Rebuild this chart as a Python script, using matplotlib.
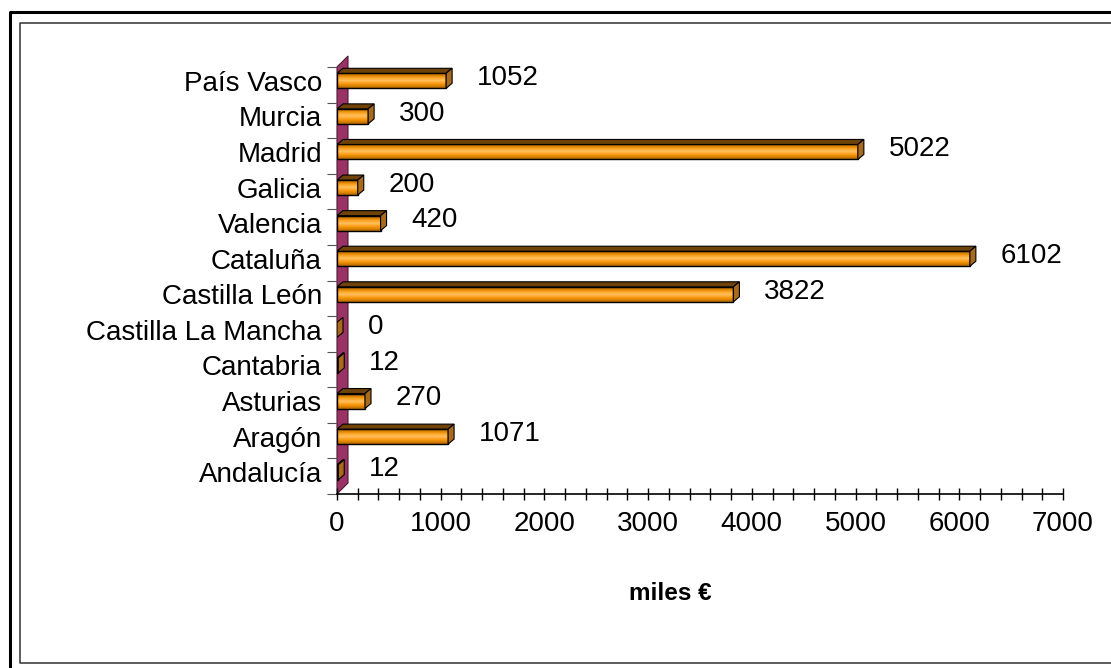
import matplotlib
matplotlib.use("Agg")
import matplotlib.pyplot as plt
import numpy as np
from matplotlib.colors import LinearSegmentedColormap
from matplotlib.patches import Polygon, Rectangle
from matplotlib.lines import Line2D
from matplotlib.ticker import MultipleLocator

plt.rcParams["font.family"] = ["Liberation Sans", "DejaVu Sans"]

# datos (de abajo a arriba)
regions = ["Andalucía", "Aragón", "Asturias", "Cantabria", "Castilla La Mancha",
           "Castilla León", "Cataluña", "Valencia", "Galicia", "Madrid", "Murcia",
           "País Vasco"]
values = [12, 1071, 270, 12, 0, 3822, 6102, 420, 200, 5022, 300, 1052]
x_ticks = [0, 1000, 2000, 3000, 4000, 5000, 6000, 7000]
x_label = "miles €"

W, H = 1111, 668
L, R, B, T = 337, 1063, 494, 67
XMAX = 7000
n = len(regions)

fig = plt.figure(figsize=(W / 100, H / 100), dpi=100)
ax = fig.add_axes([L / W, 1 - B / H, (R - L) / W, (B - T) / H])

# tamaño de un pixel en unidades de datos
px_x = XMAX / (R - L)
px_y = n / (B - T)
shift = 4 * px_y  # categorías algo por encima del suelo
y_lo, y_hi = -0.5 - shift, n - 0.5 - shift

# pared del fondo (3D)
wd = 11
wall = Polygon([(0, y_lo), (wd * px_x, y_lo + wd * px_y), (wd * px_x, y_hi + wd * px_y),
                (0, y_hi)], closed=True, facecolor="#993366", edgecolor="#4d1a33",
               lw=0.8, clip_on=False, zorder=1)
ax.add_patch(wall)

# barras con degradado
cmap = LinearSegmentedColormap.from_list(
    "naranja", ["#a85f00", "#e08600", "#ffab2e", "#ffc060", "#ffa01a", "#e08600", "#b06500"])
grad = np.linspace(0, 1, 64).reshape(-1, 1)
bh = 15 * px_y
ddx, ddy = 6 * px_x, 5 * px_y

for i, v in enumerate(values):
    y0, y1 = i - bh / 2, i + bh / 2
    if v > 0:
        ax.imshow(grad, extent=[0, v, y0, y1], origin="upper", aspect="auto", cmap=cmap,
                  zorder=3, interpolation="bilinear")
        ax.add_patch(Rectangle((0, y0), v, bh, fill=False, edgecolor="black", lw=1.0, zorder=4))
        ax.add_patch(Polygon([(0, y1), (v, y1), (v + ddx, y1 + ddy), (ddx, y1 + ddy)],
                             closed=True, facecolor="#6e4208", edgecolor="black", lw=0.8,
                             zorder=4))
    ax.add_patch(Polygon([(v, y0), (v, y1), (v + ddx, y1 + ddy), (v + ddx, y0 + ddy)],
                         closed=True, facecolor="#a86a1c", edgecolor="black", lw=0.8,
                         zorder=4))
    ax.annotate(str(v), (v, i), xytext=(22.3, 2), textcoords="offset points",
                ha="left", va="center", fontsize=20, zorder=5)

ax.set_xlim(0, XMAX)
ax.set_ylim(y_lo, y_hi)

ax.set_yticks(range(n))
ax.set_yticklabels(regions)
ax.set_yticks(np.arange(n + 1) + y_lo, minor=True)
ax.tick_params(axis="y", which="major", length=0, pad=10.8, labelsize=20)
ax.tick_params(axis="y", which="minor", length=7.2, width=0.8, direction="out", color="#555555")

ax.set_xticks(x_ticks)
ax.xaxis.set_minor_locator(MultipleLocator(200))
ax.tick_params(axis="x", which="both", direction="inout", length=8.6, width=1.0,
               labelsize=20, pad=8)

for s in ["left", "top", "right"]:
    ax.spines[s].set_visible(False)
ax.spines["bottom"].set_linewidth(1.2)

ax.text((670 - L) / (R - L), -(594 - B) / (B - T), x_label, transform=ax.transAxes,
        ha="center", va="center", fontsize=17.5, fontweight="bold")


# marcos del gráfico
def fline(xs, ys, **kw):
    fig.add_artist(Line2D([x / W for x in xs], [1 - y / H for y in ys],
                          transform=fig.transFigure, **kw))


fline([9.5, 9.5, W], [H, 11.5, 11.5], color="black", lw=2.2)
fline([W, 19.5, 19.5, W], [22.5, 22.5, 663, 663], color="#303030", lw=1.1)

plt.savefig("out.png", dpi=100)
